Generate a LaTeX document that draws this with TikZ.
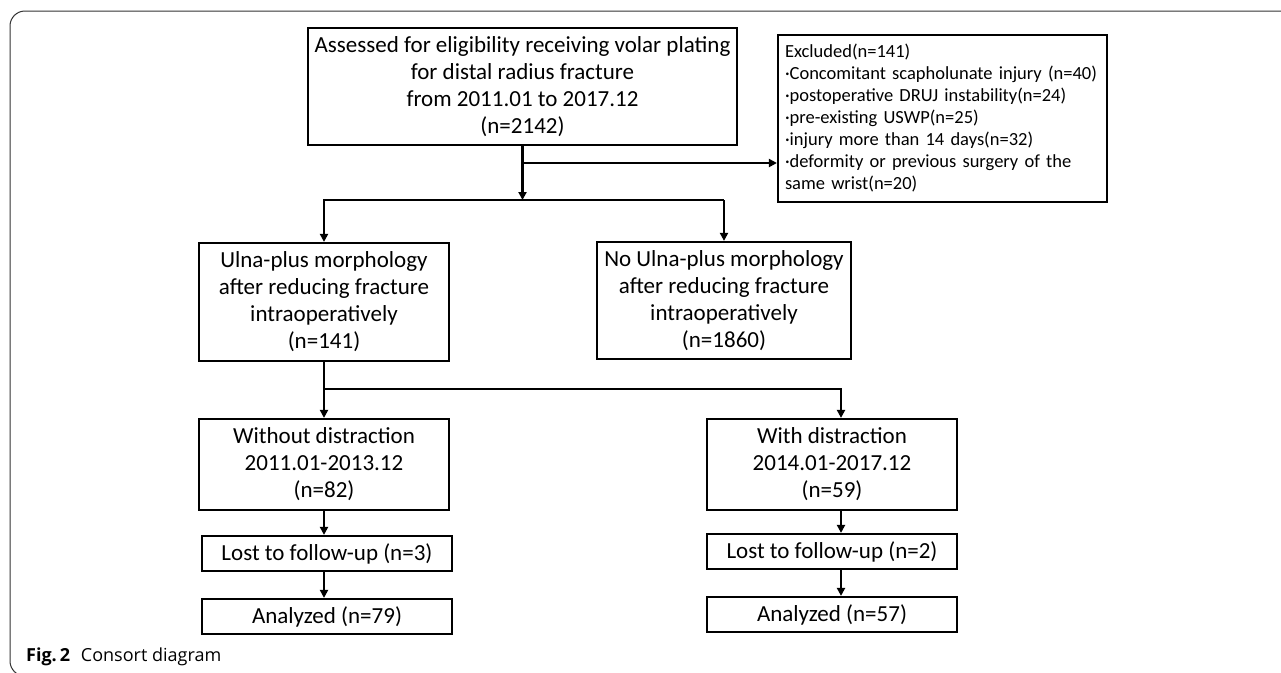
\documentclass[tikz,border=0pt]{standalone}
\usepackage{fontspec}
\setmainfont{Carlito}
\newfontfamily\capfont{Open Sans}
\usetikzlibrary{arrows.meta}
\begin{document}
\begin{tikzpicture}[x=1pt,y=-1pt,
 box/.style={draw, line width=2.2pt, align=center, inner sep=0pt, font=\fontsize{23}{27}\selectfont},
 conn/.style={line width=2.2pt},
 arr/.style={conn, -{Triangle[length=8pt,width=8pt]}}
]
\useasboundingbox (0,0) rectangle (1281,672);
\fill[white] (0,0) rectangle (1281,672);
\begin{scope}
\clip (0,0) rectangle (1281,672);
\draw[line width=1pt, black!80, rounded corners=15pt] (10,11) rectangle (1300,676);
\end{scope}

\node[box, minimum width=429pt, minimum height=117pt] (main) at (522.5,86.5)
  {Assessed for eligibility receiving volar plating\\for distal radius fracture\\from 2011.01 to 2017.12\\(n=2142)};
\node[box, minimum width=329pt, minimum height=167pt, align=left, text width=315pt, font=\fontsize{18.5}{22}\selectfont] (excl) at (942.5,118.5)
  {Excluded(n=141)\\·Concomitant scapholunate injury (n=40)\\·postoperative DRUJ instability(n=24)\\·pre-existing USWP(n=25)\\·injury more than 14 days(n=32)\\·deformity or previous surgery of the\\same wrist(n=20)};
\node[box, minimum width=250pt, minimum height=118pt] (ulna) at (324,302)
  {Ulna-plus morphology\\after reducing fracture\\intraoperatively\\(n=141)};
\node[box, minimum width=254pt, minimum height=117pt] (noulna) at (724,300.5)
  {No Ulna-plus morphology\\after reducing fracture\\intraoperatively\\(n=1860)};
\node[box, minimum width=250pt, minimum height=91pt] (without) at (324,464.5)
  {Without distraction\\2011.01-2013.12\\(n=82)};
\node[box, minimum width=250pt, minimum height=91pt] (with) at (832,464.5)
  {With distraction\\2014.01-2017.12\\(n=59)};
\node[box, minimum width=250pt, minimum height=35pt] (lostL) at (327,553.5) {Lost to follow-up (n=3)};
\node[box, minimum width=250pt, minimum height=35pt] (anL) at (327,616.5) {Analyzed (n=79)};
\node[box, minimum width=250pt, minimum height=35pt] (lostR) at (832,551.5) {Lost to follow-up (n=2)};
\node[box, minimum width=250pt, minimum height=35pt] (anR) at (832,614.5) {Analyzed (n=57)};

\coordinate (s1) at (522.5,200);
\coordinate (e1) at (522.5,163);
\coordinate (s2) at (324,389);
\coordinate (s2r) at (841,389);

\draw[arr] (main.south) -- (s1);
\draw[arr] (e1) -- (e1 -| excl.west);
\draw[arr] (noulna.north |- s1) -- (ulna.north |- s1) -- (ulna.north);
\draw[arr] (noulna.north |- s1) -- (noulna.north);
\draw[arr] (ulna.south) -- (without.north);
\draw[arr] (s2) -- (s2r) -- (s2r |- with.north);
\draw[arr] (without.south) -- (without.south |- lostL.north);
\draw[arr] (without.south |- lostL.south) -- (without.south |- anL.north);
\draw[arr] (s2r |- with.south) -- (s2r |- lostR.north);
\draw[arr] (s2r |- lostR.south) -- (s2r |- anR.north);

\node[anchor=base west, inner sep=0pt, font=\capfont\fontsize{18}{22}\selectfont] (cap) at (26,661)
  {\textbf{Fig.\,2}\hspace{0.6em}Consort diagram};
\end{tikzpicture}
\end{document}
